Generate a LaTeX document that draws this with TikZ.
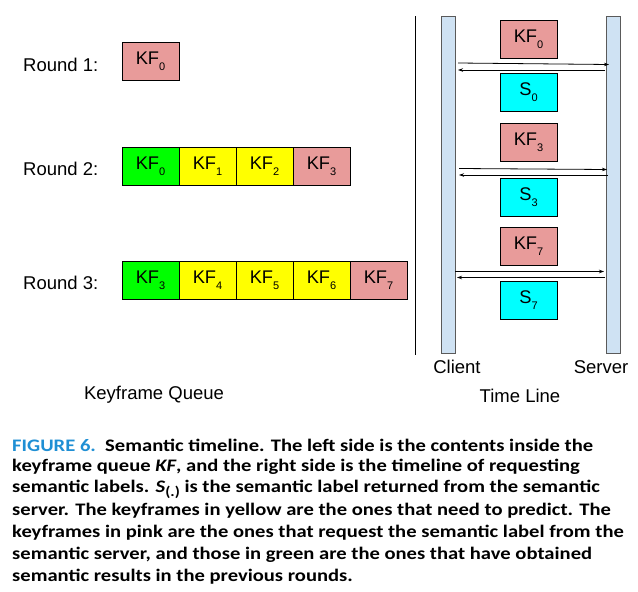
\documentclass[tikz,border=0pt]{standalone}
\usepackage{fontspec}
\setmainfont{Liberation Sans}
\newfontfamily\capfont[FakeStretch=1.17]{Carlito}
\usetikzlibrary{arrows.meta}
\definecolor{pinkc}{HTML}{E89B9A}
\definecolor{greenc}{HTML}{00FF00}
\definecolor{yellowc}{HTML}{FFFF00}
\definecolor{cyanc}{HTML}{00FFFF}
\definecolor{barc}{HTML}{CFE2F3}
\definecolor{barline}{HTML}{5A5A5A}
\definecolor{figblue}{HTML}{1F8FD4}
\newcommand\kfsub[1]{\raisebox{-6pt}{\fontsize{11}{11}\selectfont #1}}
\tikzset{
  kf/.style={draw=black, line width=0.9pt, minimum width=57pt, minimum height=38pt, inner sep=0pt,
    font=\fontsize{18.3}{18.3}\selectfont},
  lbl/.style={font=\fontsize{18.5}{18.5}\selectfont, inner sep=0pt},
  bar/.style={draw=barline, fill=barc, line width=0.7pt, inner sep=0pt, minimum width=13.5pt, minimum height=337pt},
  msg/.style={line width=0.8pt, -{Stealth[length=5pt,width=3.5pt]}},
  capline/.style={anchor=west, inner sep=0pt, font=\capfont\bfseries\fontsize{17.6}{17.6}\selectfont}
}
\begin{document}
\begin{tikzpicture}[x=1pt,y=-1pt]
\useasboundingbox (0,0) rectangle (638,592);
% left side
\node[lbl, anchor=west] (l1) at (23,65) {Round 1:};
\node[lbl, anchor=west] (l2) at (23,169) {Round 2:};
\node[lbl, anchor=west] (l3) at (23,283) {Round 3:};
\node[kf, fill=pinkc] (a0) at (150.5,61) {KF\kfsub{0}};
\node[kf, fill=greenc] (b0) at (150.5,166.5) {KF\kfsub{0}};
\node[kf, fill=yellowc] (b1) at (207.5,166.5) {KF\kfsub{1}};
\node[kf, fill=yellowc] (b2) at (264.5,166.5) {KF\kfsub{2}};
\node[kf, fill=pinkc] (b3) at (321.5,166.5) {KF\kfsub{3}};
\node[kf, fill=greenc] (c3) at (150.5,280) {KF\kfsub{3}};
\node[kf, fill=yellowc] (c4) at (207.5,280) {KF\kfsub{4}};
\node[kf, fill=yellowc] (c5) at (264.5,280) {KF\kfsub{5}};
\node[kf, fill=yellowc] (c6) at (321.5,280) {KF\kfsub{6}};
\node[kf, fill=pinkc] (c7) at (378.5,280) {KF\kfsub{7}};
\node[lbl] (kq) at (154,395) {Keyframe Queue};
% divider
\coordinate (dv1) at (415.5,16);
\coordinate (dv2) at (415.5,355);
\draw[line width=1.1pt] (dv1) -- (dv2);
% right side
\node[bar] (client) at (448.5,184.5) {};
\node[bar] (server) at (613.5,184.5) {};
\node[kf, fill=pinkc] (t0) at (528.5,39) {KF\kfsub{0}};
\node[kf, fill=cyanc] (s0) at (528.5,92.5) {S\kfsub{0}};
\node[kf, fill=pinkc] (t3) at (528.5,142.5) {KF\kfsub{3}};
\node[kf, fill=cyanc] (s3) at (528.5,197.5) {S\kfsub{3}};
\node[kf, fill=pinkc] (t7) at (528.5,246.5) {KF\kfsub{7}};
\node[kf, fill=cyanc] (s7) at (528.5,300.5) {S\kfsub{7}};
\node[lbl] (cl) at (457,367) {Client};
\node[lbl] (sv) at (601,367) {Server};
\node[lbl] (tl) at (520,396) {Time Line};
% messages
\coordinate (p1a) at (458,63); \coordinate (p1b) at (609,64.5);
\coordinate (p2a) at (605,70); \coordinate (p2b) at (458,70);
\coordinate (p3a) at (459,168.5); \coordinate (p3b) at (607,169.5);
\coordinate (p4a) at (608,175); \coordinate (p4b) at (459,175);
\coordinate (p5a) at (455,271.5); \coordinate (p5b) at (604,271.5);
\coordinate (p6a) at (605,277.5); \coordinate (p6b) at (457,277.5);
\draw[msg] (p1a) -- (p1b);
\draw[msg] (p2a) -- (p2b);
\draw[msg] (p3a) -- (p3b);
\draw[msg] (p4a) -- (p4b);
\draw[msg] (p5a) -- (p5b);
\draw[msg] (p6a) -- (p6b);
% caption
\node[capline] (c1) at (12,445) {{\color{figblue}FIGURE 6.}\ \ Semantic timeline. The left side is the contents inside the};
\node[capline] (c2) at (12,467) {keyframe queue \textit{KF}, and the right side is the timeline of requesting};
\node[capline] (c3l) at (12,489) {semantic labels. \textit{S}\raisebox{-4pt}{\fontsize{14}{14}\selectfont(.)} is the semantic label returned from the semantic};
\node[capline] (c4l) at (12,511) {server. The keyframes in yellow are the ones that need to predict. The};
\node[capline] (c5l) at (12,533) {keyframes in pink are the ones that request the semantic label from the};
\node[capline] (c6l) at (12,555) {semantic server, and those in green are the ones that have obtained};
\node[capline] (c7l) at (12,577) {semantic results in the previous rounds.};
\end{tikzpicture}
\end{document}
